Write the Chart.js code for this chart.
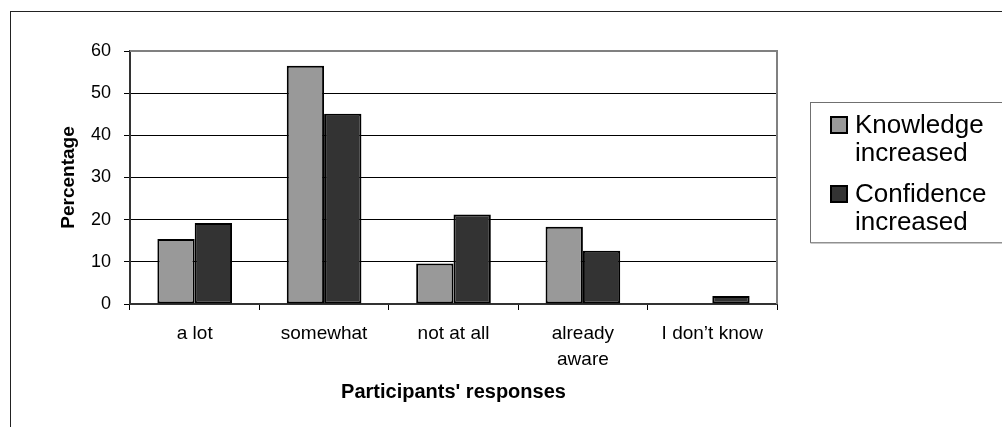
<!DOCTYPE html>
<html>
<head>
<meta charset="utf-8">
<script src="https://cdn.jsdelivr.net/npm/chart.js@4"></script>
<style>
  html, body { margin: 0; padding: 0; background: #fff; }
  canvas { display: block; }
</style>
</head>
<body>
<canvas id="chart" width="1002" height="427"></canvas>
<script>
// Survey answers: share of participants per response
const categories = ['a lot', 'somewhat', 'not at all', ['already', 'aware'], 'I don\u2019t know'];
const knowledgeIncreased = [15.4, 56.5, 9.6, 18.3, 0];
const confidenceIncreased = [19.2, 45.1, 21.2, 12.6, 1.9];
const seriesNames = ['Knowledge increased', 'Confidence increased'];
const seriesColors = ['#999999', '#333333'];
const yTicks = [0, 10, 20, 30, 40, 50, 60];

const FONT = '"Liberation Sans", Arial, Helvetica, sans-serif';

// Outer frame plus the grey plot-area border (top and right edges)
const framePlugin = {
  id: 'frame',
  beforeDatasetsDraw(chart) {
    const { ctx, chartArea: a } = chart;
    ctx.save();
    ctx.strokeStyle = '#808080';
    ctx.lineWidth = 2;
    ctx.beginPath();
    ctx.moveTo(a.left, a.top);
    ctx.lineTo(a.right, a.top);
    ctx.lineTo(a.right, a.bottom);
    ctx.stroke();
    ctx.restore();
  },
  afterDraw(chart) {
    const { ctx } = chart;
    ctx.save();
    ctx.strokeStyle = '#222';
    ctx.lineWidth = 1;
    ctx.strokeRect(10.5, 11.5, 1200, 1000);
    ctx.restore();
  }
};

// Boxed legend at the right, one wrapped entry per dataset
const boxLegendPlugin = {
  id: 'boxLegend',
  afterDraw(chart) {
    const { ctx } = chart;
    const box = { x: 810.5, y: 102.5, w: 400, h: 140 };
    ctx.save();
    ctx.strokeStyle = '#707070';
    ctx.lineWidth = 1;
    ctx.strokeRect(box.x, box.y, box.w, box.h);
    ctx.fillStyle = '#909090';
    ctx.fillRect(box.x, box.y + box.h - 0.5, box.w, 1.5);

    ctx.font = '26px ' + FONT;
    ctx.textAlign = 'left';
    ctx.textBaseline = 'alphabetic';
    const entryTop = [133, 202];
    const lineGap = 28;
    chart.data.datasets.forEach((ds, i) => {
      const base = entryTop[i];
      ctx.fillStyle = '#000';
      ctx.fillRect(830, base - 17, 18, 18);
      ctx.fillStyle = ds.backgroundColor;
      ctx.fillRect(832, base - 15, 14, 14);
      ctx.fillStyle = '#000';
      const words = ds.label.split(' ');
      words.forEach((w, k) => ctx.fillText(w, 855, base + k * lineGap));
    });
    ctx.restore();
  }
};

new Chart(document.getElementById('chart'), {
  type: 'bar',
  data: {
    labels: categories,
    datasets: [
      {
        label: seriesNames[0],
        data: knowledgeIncreased,
        backgroundColor: seriesColors[0],
        borderColor: '#000',
        borderWidth: 2,
        borderSkipped: false
      },
      {
        label: seriesNames[1],
        data: confidenceIncreased,
        backgroundColor: seriesColors[1],
        borderColor: '#000',
        borderWidth: 2,
        borderSkipped: false
      }
    ]
  },
  options: {
    responsive: false,
    animation: false,
    devicePixelRatio: 1,
    layout: { padding: { top: 51, left: 10, right: 225, bottom: 10 } },
    datasets: { bar: { categoryPercentage: 0.577, barPercentage: 1 } },
    plugins: {
      legend: { display: false },
      tooltip: { enabled: false }
    },
    scales: {
      x: {
        grid: {
          display: true,
          drawOnChartArea: false,
          drawTicks: true,
          tickLength: 6,
          color: '#000',
          offset: true
        },
        border: { color: '#333', width: 2 },
        ticks: {
          color: '#000',
          padding: 11,
          font: { family: FONT, size: 19, lineHeight: 1.37 },
          maxRotation: 0,
          autoSkip: false
        },
        title: {
          display: true,
          text: 'Participants\' responses',
          color: '#000',
          font: { family: FONT, size: 20, weight: 'bold', lineHeight: 1.2 },
          padding: { top: 0, bottom: 13 }
        },
        afterFit(scale) { scale.height = 427 - 10 - 304; }
      },
      y: {
        min: 0,
        max: 60,
        afterBuildTicks(scale) { scale.ticks = yTicks.map(v => ({ value: v })); },
        grid: {
          color: (c) => (c.tick && c.tick.value === 60 ? 'rgba(0,0,0,0)' : '#000'),
          tickColor: '#000',
          lineWidth: 1,
          drawTicks: true,
          tickLength: 6
        },
        border: { color: '#333', width: 2 },
        ticks: {
          color: '#000',
          padding: 13,
          font: { family: FONT, size: 18 }
        },
        title: {
          display: true,
          text: 'Percentage',
          color: '#000',
          font: { family: FONT, size: 19, weight: 'bold', lineHeight: 1.2 },
          padding: { top: 47, bottom: 0 }
        },
        afterFit(scale) { scale.width = 120; }
      }
    }
  },
  plugins: [framePlugin, boxLegendPlugin]
});
</script>
</body>
</html>
